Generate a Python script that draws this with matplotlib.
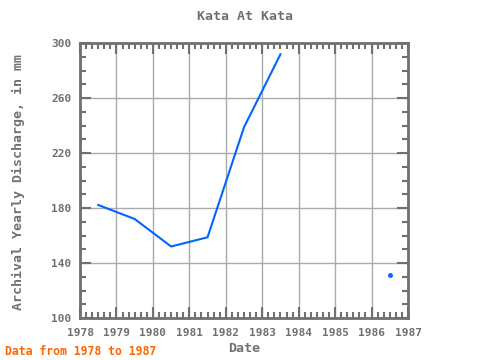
import numpy as np
import matplotlib
matplotlib.use("Agg")
import matplotlib.pyplot as plt
from matplotlib.ticker import MultipleLocator

years = [1978.5, 1979.5, 1980.5, 1981.5, 1982.5, 1983.5, 1984.5, 1985.5, 1986.5]
discharge = [182.2, 172.0, 152.0, 158.7, 238.7, 291.8, np.nan, np.nan, 131.3]

title = "Kata At Kata"
xlabel = "Date"
ylabel = "Archival Yearly Discharge, in mm"
footer = "Data from 1978 to 1987"
xticks = list(range(1978, 1988))
yticks = [100, 140, 180, 220, 260, 300]

gray = "#707070"
font = "DejaVu Sans Mono"

fig = plt.figure(figsize=(4.8, 3.6), dpi=100)
ax = fig.add_axes([80/480, 1-318/360, 328/480, 275/360])

x = np.array(years)
y = np.array(discharge, dtype=float)
ax.plot(x, y, color="#0066ff", lw=1.5, zorder=3)
# isolated points
for i in range(len(y)):
    if np.isnan(y[i]):
        continue
    prev_nan = i == 0 or np.isnan(y[i-1])
    next_nan = i == len(y)-1 or np.isnan(y[i+1])
    if prev_nan and next_nan:
        ax.plot(x[i], y[i], 'o', color="#0066ff", ms=2.5, zorder=3)

ax.set_xlim(1978, 1987)
ax.set_ylim(100, 300)
ax.set_xticks(xticks)
ax.set_yticks(yticks)
ax.xaxis.set_minor_locator(MultipleLocator(1/6))
ax.yaxis.set_minor_locator(MultipleLocator(10))
ax.grid(True, which="major", color="#aaaaaa", lw=1)
ax.set_axisbelow(True)
ax.tick_params(which="both", direction="in", top=True, right=True, color=gray,
               labelsize=8, labelcolor=gray)
ax.tick_params(which="major", length=8, width=1.5)
ax.tick_params(which="minor", length=4, width=1.5)
ax.tick_params(axis="x", which="major", pad=7)
ax.tick_params(axis="y", which="major", pad=6)
for lbl in ax.get_xticklabels() + ax.get_yticklabels():
    lbl.set_fontfamily(font)
    lbl.set_fontweight("bold")
for s in ax.spines.values():
    s.set_color(gray)
    s.set_linewidth(2)

fig.text(245/480, 1-17/360, title, fontfamily=font, fontsize=9.5, color=gray,
         fontweight="bold", ha="center", va="center")
fig.text(244/480, 1-348/360, xlabel, fontfamily=font, fontsize=9.5, color=gray,
         fontweight="bold", ha="center", va="center")
fig.text(18/480, 1-182/360, ylabel, fontfamily=font, fontsize=9.5, color=gray,
         fontweight="bold", ha="center", va="center", rotation=90)
fig.text(5/480, 1-355/360, footer, fontfamily=font, fontsize=8.3, color="#ff6600",
         fontweight="bold", va="baseline")

fig.savefig("out.png", dpi=100)
